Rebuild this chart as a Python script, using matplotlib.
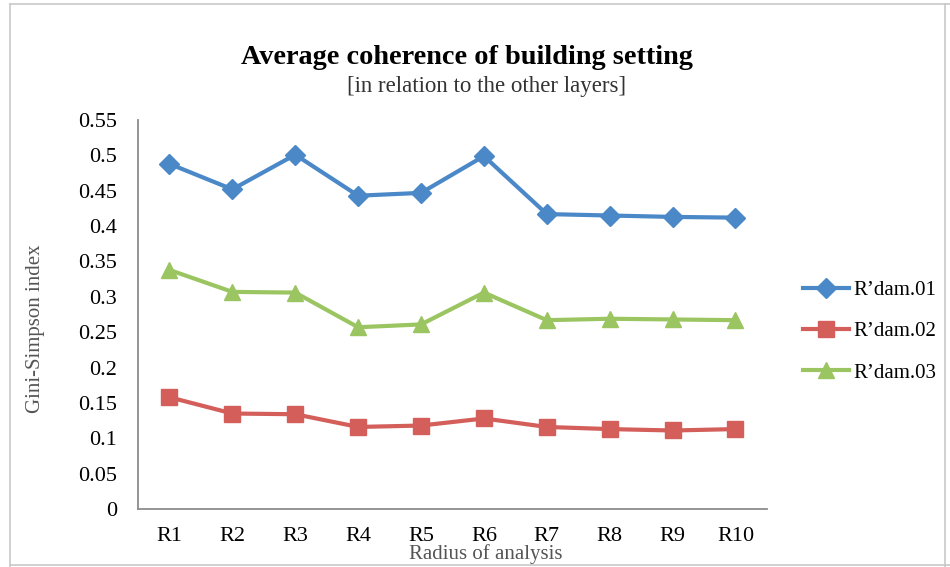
import matplotlib
matplotlib.use("Agg")
import matplotlib.pyplot as plt
from matplotlib.lines import Line2D

# values
radii = ["R1", "R2", "R3", "R4", "R5", "R6", "R7", "R8", "R9", "R10"]
rdam01 = [0.488, 0.452, 0.501, 0.443, 0.447, 0.499, 0.417, 0.415, 0.413, 0.412]
rdam02 = [0.158, 0.135, 0.134, 0.116, 0.118, 0.128, 0.116, 0.113, 0.111, 0.113]
rdam03 = [0.338, 0.307, 0.306, 0.257, 0.261, 0.306, 0.267, 0.269, 0.268, 0.267]
y_ticks = [0, 0.05, 0.1, 0.15, 0.2, 0.25, 0.3, 0.35, 0.4, 0.45, 0.5, 0.55]
y_labels = ["0", "0.05", "0.1", "0.15", "0.2", "0.25", "0.3", "0.35", "0.4", "0.45", "0.5", "0.55"]

plt.rcParams['font.family'] = ['Liberation Serif', 'DejaVu Serif']

fig = plt.figure(figsize=(9.5, 5.67), dpi=100)
ax = fig.add_axes([0.1453, 0.1023, 0.662, 0.686])

x = list(range(len(radii)))
ax.plot(x, rdam01, color='#4a88c7', lw=3, marker='D', ms=10, label='R’dam.01')
ax.plot(x, rdam02, color='#d35e5a', lw=3, marker='s', ms=11, label='R’dam.02')
ax.plot(x, rdam03, color='#9bc561', lw=3, marker='^', ms=11, label='R’dam.03')

ax.set_xlim(-0.5, len(radii) - 0.5)
ax.set_ylim(0, 0.55)
ax.set_yticks(y_ticks)
ax.set_yticklabels(y_labels)
ax.set_xticks(x)
ax.set_xticklabels(radii)
ax.tick_params(axis='y', length=0, pad=15, labelsize=16)
ax.tick_params(axis='x', length=0, pad=13, labelsize=16)
for s in ['top', 'right']:
    ax.spines[s].set_visible(False)
for s in ['left', 'bottom']:
    ax.spines[s].set_color('#8c8c8c')
    ax.spines[s].set_linewidth(1.3)

fig.text(0.492, 0.899, "Average coherence of building setting", ha='center', va='center',
         fontsize=20.3, fontweight='bold', color='black')
fig.text(0.512, 0.848, "[in relation to the other layers]", ha='center', va='center',
         fontsize=16.5, color='#333333')
fig.text(0.037, 0.42, "Gini-Simpson index", rotation=90, ha='center', va='center',
         fontsize=15, color='#555555')
fig.text(0.511, 0.022, "Radius of analysis", ha='center', va='center',
         fontsize=15, color='#555555')

leg = ax.legend(loc='upper left', bbox_to_anchor=(1.057, 0.588), frameon=False,
                fontsize=15, handlelength=2.2, labelspacing=1.05, handletextpad=0.25,
                borderaxespad=0, borderpad=0)

# outer frame
for xs, ys in [([0.0105, 0.0105], [0.0, 0.993]), ([0.0105, 1.0], [0.993, 0.993]),
               ([0.0105, 1.0], [0.003, 0.003]), ([0.995, 0.995], [0.0, 0.993])]:
    fig.add_artist(Line2D(xs, ys, transform=fig.transFigure, color='#c8c8c8', lw=1.2))

fig.savefig("out.png", dpi=100)
